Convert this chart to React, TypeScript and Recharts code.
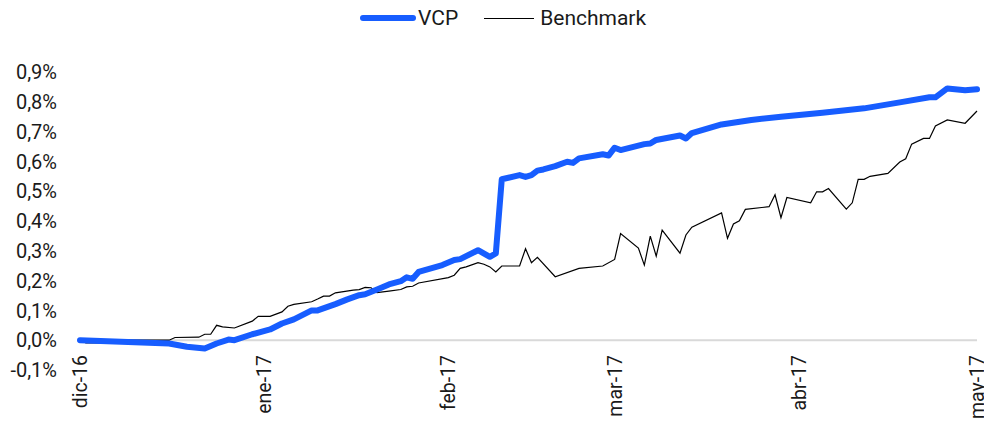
import React from 'react';
import { LineChart, Line, XAxis, YAxis, ReferenceLine } from 'recharts';

// Day offsets counted from 1 December 2016
const monthTicks = [0, 31, 62, 90, 121, 151];
const monthLabels = ['dic-16', 'ene-17', 'feb-17', 'mar-17', 'abr-17', 'may-17'];
const yTicks = [-0.1, 0, 0.1, 0.2, 0.3, 0.4, 0.5, 0.6, 0.7, 0.8, 0.9];

const vcpDays = [0, 15, 18, 21, 23, 25, 26, 29, 32, 34, 36, 39, 40, 43, 45, 47, 48, 50, 52, 54, 55, 56, 57, 61, 63, 64, 67, 69, 70, 71, 74, 75, 76, 77, 78, 80, 82, 83, 84, 88, 89, 90, 91, 95, 96, 97, 101, 102, 103, 108, 113, 118, 125, 132, 138, 143, 144, 146, 149, 151];
const vcpValues = [0.0, -0.011, -0.022, -0.028, -0.011, 0.002, 0.0, 0.02, 0.036, 0.056, 0.07, 0.1, 0.1, 0.121, 0.137, 0.151, 0.154, 0.17, 0.187, 0.198, 0.211, 0.206, 0.229, 0.252, 0.269, 0.272, 0.302, 0.28, 0.291, 0.54, 0.554, 0.548, 0.554, 0.569, 0.573, 0.584, 0.599, 0.595, 0.61, 0.624, 0.62, 0.646, 0.638, 0.658, 0.66, 0.672, 0.687, 0.677, 0.695, 0.724, 0.739, 0.75, 0.763, 0.778, 0.798, 0.815, 0.815, 0.845, 0.839, 0.842];

const benchDays = [0, 1, 6, 7, 15, 16, 20, 21, 22, 23, 24, 26, 29, 30, 32, 34, 35, 36, 39, 40, 41, 42, 43, 46, 47, 48, 49, 50, 52, 54, 55, 56, 57, 62, 63, 64, 65, 67, 68, 69, 70, 71, 74, 75, 76, 77, 80, 84, 88, 90, 91, 94, 95, 96, 97, 98, 101, 102, 103, 108, 109, 110, 111, 112, 116, 117, 118, 119, 123, 124, 125, 126, 129, 130, 131, 132, 133, 136, 138, 139, 140, 142, 143, 144, 146, 149, 151];
const benchValues = [0.0, -0.009, -0.009, 0.0, 0.0, 0.009, 0.01, 0.02, 0.02, 0.05, 0.045, 0.041, 0.064, 0.08, 0.08, 0.095, 0.114, 0.12, 0.129, 0.138, 0.148, 0.148, 0.159, 0.168, 0.17, 0.177, 0.176, 0.16, 0.165, 0.17, 0.179, 0.181, 0.192, 0.21, 0.218, 0.241, 0.246, 0.26, 0.255, 0.246, 0.229, 0.249, 0.249, 0.307, 0.26, 0.278, 0.213, 0.241, 0.249, 0.271, 0.358, 0.309, 0.252, 0.349, 0.282, 0.369, 0.292, 0.353, 0.379, 0.427, 0.342, 0.39, 0.401, 0.439, 0.448, 0.488, 0.411, 0.479, 0.461, 0.498, 0.498, 0.509, 0.44, 0.461, 0.54, 0.54, 0.55, 0.56, 0.598, 0.609, 0.658, 0.677, 0.677, 0.719, 0.739, 0.728, 0.769];

type Row = { d: number; vcp?: number; bench?: number };

function buildRows(): Row[] {
  const map = new Map<number, Row>();
  vcpDays.forEach((d, i) => {
    const r = map.get(d) || { d };
    r.vcp = vcpValues[i];
    map.set(d, r);
  });
  benchDays.forEach((d, i) => {
    const r = map.get(d) || { d };
    r.bench = benchValues[i];
    map.set(d, r);
  });
  return Array.from(map.values()).sort((a, b) => a.d - b.d);
}

const rows = buildRows();
const FONT = 'Roboto, "Noto Sans", sans-serif';
const BLUE = '#175dff';

const fmtPct = (v: number) => v.toFixed(1).replace('.', ',') + '%';

const XTick = (props: any) => {
  const { x, y, payload } = props;
  const idx = monthTicks.indexOf(payload.value);
  const label = idx >= 0 ? monthLabels[idx] : '';
  const ty = y - 15;
  return (
    <text
      x={x}
      y={ty}
      dy="0.36em"
      textAnchor="end"
      transform={`rotate(-90, ${x}, ${ty})`}
      fill="#1a1a1a"
      fontSize={19.5}
      fontFamily={FONT}
    >
      {label}
    </text>
  );
};

export default function App() {
  return (
    <div style={{ position: 'absolute', left: 0, top: 0, width: 984, height: 421, background: '#fff' }}>
      <div
        style={{
          position: 'absolute',
          top: 6,
          left: 360,
          display: 'flex',
          alignItems: 'center',
          fontFamily: FONT,
          fontSize: 21,
          color: '#1a1a1a',
          whiteSpace: 'nowrap',
        }}
      >
        <span style={{ display: 'inline-block', width: 56, height: 6, borderRadius: 3, background: BLUE, marginRight: 2 }} />
        <span style={{ marginRight: 26 }}>VCP</span>
        <span style={{ display: 'inline-block', width: 50, height: 1, background: '#000', marginRight: 6 }} />
        <span>Benchmark</span>
      </div>
      <LineChart width={984} height={421} data={rows} margin={{ top: 72, right: 7, bottom: 0, left: 0 }}>
        <XAxis
          type="number"
          dataKey="d"
          domain={[0, 151]}
          ticks={monthTicks}
          interval={0}
          height={51}
          axisLine={false}
          tickLine={false}
          tickSize={0}
          tickMargin={0}
          tick={<XTick />}
        />
        <YAxis
          type="number"
          domain={[-0.1, 0.9]}
          ticks={yTicks}
          interval={0}
          width={80}
          axisLine={false}
          tickLine={false}
          tickSize={0}
          tickMargin={23}
          tickFormatter={fmtPct}
          tick={{ fill: '#1a1a1a', fontSize: 20, fontFamily: FONT }}
        />
        <ReferenceLine y={0} stroke="#d9d9d9" strokeWidth={2} />
        <Line
          type="linear"
          dataKey="bench"
          stroke="#000"
          strokeWidth={1.2}
          dot={false}
          connectNulls
          isAnimationActive={false}
        />
        <Line
          type="linear"
          dataKey="vcp"
          stroke={BLUE}
          strokeWidth={6}
          strokeLinejoin="round"
          strokeLinecap="round"
          dot={false}
          connectNulls
          isAnimationActive={false}
        />
      </LineChart>
    </div>
  );
}
